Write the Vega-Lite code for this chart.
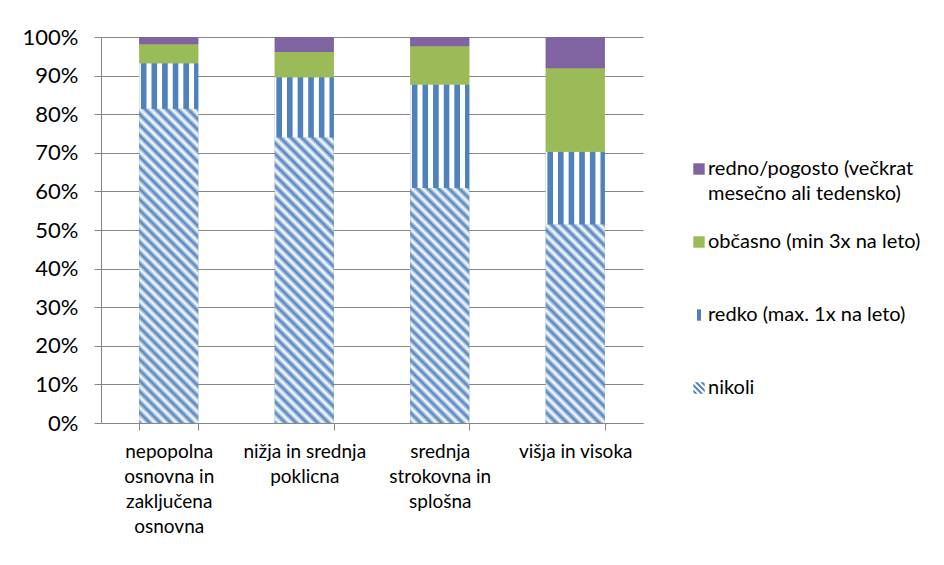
{
  "$schema": "https://vega.github.io/schema/vega-lite/v6.json",
  "width": 542,
  "height": 386,
  "autosize": {"type": "none"},
  "padding": {"left": 101, "top": 37, "right": 301, "bottom": 142},
  "background": "white",
  "config": {
    "view": {"stroke": null},
    "font": "Lato",
    "style": {"guide-label": {"lineHeight": 25}},
    "axis": {"domainColor": "#868686", "tickColor": "#868686", "gridColor": "#868686", "labelColor": "#000000", "labelFont": "Lato", "title": null}
  },
  "data": {
    "values": [
      {"kat": "nepopolna|osnovna in|zaključena|osnovna", "s": "nikoli", "o": 1, "v": 81.4},
      {"kat": "nepopolna|osnovna in|zaključena|osnovna", "s": "redko (max. 1x na leto)", "o": 2, "v": 11.8},
      {"kat": "nepopolna|osnovna in|zaključena|osnovna", "s": "občasno (min 3x na leto)", "o": 3, "v": 4.9},
      {"kat": "nepopolna|osnovna in|zaključena|osnovna", "s": "redno/pogosto (večkrat|mesečno ali tedensko)", "o": 4, "v": 1.9},
      {"kat": "nižja in srednja|poklicna", "s": "nikoli", "o": 1, "v": 74.0},
      {"kat": "nižja in srednja|poklicna", "s": "redko (max. 1x na leto)", "o": 2, "v": 15.6},
      {"kat": "nižja in srednja|poklicna", "s": "občasno (min 3x na leto)", "o": 3, "v": 6.5},
      {"kat": "nižja in srednja|poklicna", "s": "redno/pogosto (večkrat|mesečno ali tedensko)", "o": 4, "v": 3.9},
      {"kat": "srednja|strokovna in|splošna", "s": "nikoli", "o": 1, "v": 60.9},
      {"kat": "srednja|strokovna in|splošna", "s": "redko (max. 1x na leto)", "o": 2, "v": 26.8},
      {"kat": "srednja|strokovna in|splošna", "s": "občasno (min 3x na leto)", "o": 3, "v": 9.9},
      {"kat": "srednja|strokovna in|splošna", "s": "redno/pogosto (večkrat|mesečno ali tedensko)", "o": 4, "v": 2.4},
      {"kat": "višja in visoka", "s": "nikoli", "o": 1, "v": 51.5},
      {"kat": "višja in visoka", "s": "redko (max. 1x na leto)", "o": 2, "v": 18.8},
      {"kat": "višja in visoka", "s": "občasno (min 3x na leto)", "o": 3, "v": 21.6},
      {"kat": "višja in visoka", "s": "redno/pogosto (večkrat|mesečno ali tedensko)", "o": 4, "v": 8.1}
    ]
  },
  "encoding": {
    "x": {
      "field": "kat", "type": "nominal", "sort": null,
      "scale": {"type": "band", "paddingInner": 0.5646, "paddingOuter": 0.2823},
      "axis": {"labelExpr": "split(datum.label, '|')", "labelAngle": 0, "labelFontSize": 19, "labelPadding": 12, "tickSize": 7, "tickBand": "extent", "grid": false, "labelLimit": 300}
    },
    "y": {
      "field": "v", "type": "quantitative", "stack": "normalize",
      "axis": {"values": [0, 0.1, 0.2, 0.3, 0.4, 0.5, 0.6, 0.7, 0.8, 0.9, 1], "format": ".0%", "labelFontSize": 22, "labelPadding": 16, "tickSize": 7, "grid": true}
    },
    "order": {"field": "o", "type": "quantitative", "sort": "ascending"}
  },
  "layer": [
    {
      "mark": {"type": "bar"},
      "encoding": {
        "color": {
          "field": "s", "type": "nominal",
          "scale": {"domain": ["redno/pogosto (večkrat|mesečno ali tedensko)", "občasno (min 3x na leto)", "redko (max. 1x na leto)", "nikoli"], "range": ["#8064a2", "#9bbb59", "#4f81bd", "#4f81bd"]},
          "legend": {"orient": "none", "legendX": 588, "legendY": 122, "title": null, "padding": 0, "labelExpr": "indexof(datum.label, '|') >= 0 ? split(datum.label, '|') : [datum.label, ' ']", "labelFontSize": 20, "labelColor": "#000000", "labelLimit": 400, "labelOffset": -1, "symbolSize": 130, "symbolStrokeWidth": 0, "symbolOpacity": 1, "rowPadding": 28}
        }
      }
    },
    {
      "mark": {"type": "point", "filled": true, "size": 0},
      "encoding": {
        "color": {
          "field": "s", "type": "nominal",
          "scale": {"domain": ["redno/pogosto (večkrat|mesečno ali tedensko)", "občasno (min 3x na leto)", "redko (max. 1x na leto)", "nikoli"], "range": ["#8064a2", "#9bbb59", "#4f81bd", "#4f81bd"]},
          "legend": {"orient": "none", "legendX": 588, "legendY": 122, "title": null, "padding": 0, "labelExpr": "indexof(datum.label, '|') >= 0 ? split(datum.label, '|') : [datum.label, ' ']", "labelFontSize": 20, "labelColor": "#000000", "labelLimit": 400, "labelOffset": -1, "symbolSize": 130, "symbolStrokeWidth": 0, "symbolOpacity": 1, "rowPadding": 28}
        },
        "shape": {
          "field": "s", "type": "nominal",
          "scale": {"domain": ["redno/pogosto (večkrat|mesečno ali tedensko)", "občasno (min 3x na leto)", "redko (max. 1x na leto)", "nikoli"], "range": ["square", "square", "M-0.35,-1H0.35V1H-0.35Z", "M-1,0.75L-1,0.25L-0.25,1L-0.75,1Z M-1,-0.25L-1,-0.75L0.75,1L0.25,1Z M-0.75,-1L-0.25,-1L1,0.25L1,0.75Z M0.25,-1L0.75,-1L1,-0.75L1,-0.25Z"]},
          "legend": {"orient": "none", "legendX": 588, "legendY": 122, "title": null, "padding": 0, "labelExpr": "indexof(datum.label, '|') >= 0 ? split(datum.label, '|') : [datum.label, ' ']", "labelFontSize": 20, "labelColor": "#000000", "labelLimit": 400, "labelOffset": -1, "symbolSize": 130, "symbolStrokeWidth": 0, "symbolOpacity": 1, "rowPadding": 28}
        }
      }
    },
    {
      "mark": {"type": "bar"},
      "encoding": {
        "fill": {
          "condition": [
            {"test": "datum.s === 'redko (max. 1x na leto)'", "value": {"gradient": "linear", "x1": 0, "y1": 0, "x2": 1, "y2": 0, "stops": [
              {"offset": 0, "color": "#ffffff"}, {"offset": 0.02, "color": "#ffffff"}, {"offset": 0.035, "color": "#4f81bd"}, {"offset": 0.115, "color": "#4f81bd"}, {"offset": 0.13, "color": "#ffffff"},
              {"offset": 0.2, "color": "#ffffff"}, {"offset": 0.215, "color": "#4f81bd"}, {"offset": 0.295, "color": "#4f81bd"}, {"offset": 0.31, "color": "#ffffff"},
              {"offset": 0.38, "color": "#ffffff"}, {"offset": 0.395, "color": "#4f81bd"}, {"offset": 0.475, "color": "#4f81bd"}, {"offset": 0.49, "color": "#ffffff"},
              {"offset": 0.56, "color": "#ffffff"}, {"offset": 0.575, "color": "#4f81bd"}, {"offset": 0.655, "color": "#4f81bd"}, {"offset": 0.67, "color": "#ffffff"},
              {"offset": 0.74, "color": "#ffffff"}, {"offset": 0.755, "color": "#4f81bd"}, {"offset": 0.835, "color": "#4f81bd"}, {"offset": 0.85, "color": "#ffffff"},
              {"offset": 0.92, "color": "#ffffff"}, {"offset": 0.935, "color": "#4f81bd"}, {"offset": 1, "color": "#4f81bd"}
            ]}},
            {"test": "datum.s === 'občasno (min 3x na leto)'", "value": "#9bbb59"},
            {"test": "datum.s === 'nikoli' && datum.kat === 'nepopolna|osnovna in|zaključena|osnovna'", "value": {"gradient": "linear", "x1": 0, "y1": 1, "x2": 0.2154, "y2": -0.147, "stops": [
              {"offset": 0, "color": "#4f81bd"}, {"offset": 0.0143, "color": "#ffffff"}, {"offset": 0.0286, "color": "#4f81bd"}, {"offset": 0.0429, "color": "#ffffff"}, {"offset": 0.0571, "color": "#4f81bd"}, {"offset": 0.0714, "color": "#ffffff"}, {"offset": 0.0857, "color": "#4f81bd"}, {"offset": 0.1, "color": "#ffffff"}, {"offset": 0.1143, "color": "#4f81bd"}, {"offset": 0.1286, "color": "#ffffff"},
              {"offset": 0.1429, "color": "#4f81bd"}, {"offset": 0.1571, "color": "#ffffff"}, {"offset": 0.1714, "color": "#4f81bd"}, {"offset": 0.1857, "color": "#ffffff"}, {"offset": 0.2, "color": "#4f81bd"}, {"offset": 0.2143, "color": "#ffffff"}, {"offset": 0.2286, "color": "#4f81bd"}, {"offset": 0.2429, "color": "#ffffff"}, {"offset": 0.2571, "color": "#4f81bd"}, {"offset": 0.2714, "color": "#ffffff"},
              {"offset": 0.2857, "color": "#4f81bd"}, {"offset": 0.3, "color": "#ffffff"}, {"offset": 0.3143, "color": "#4f81bd"}, {"offset": 0.3286, "color": "#ffffff"}, {"offset": 0.3429, "color": "#4f81bd"}, {"offset": 0.3571, "color": "#ffffff"}, {"offset": 0.3714, "color": "#4f81bd"}, {"offset": 0.3857, "color": "#ffffff"}, {"offset": 0.4, "color": "#4f81bd"}, {"offset": 0.4143, "color": "#ffffff"},
              {"offset": 0.4286, "color": "#4f81bd"}, {"offset": 0.4429, "color": "#ffffff"}, {"offset": 0.4571, "color": "#4f81bd"}, {"offset": 0.4714, "color": "#ffffff"}, {"offset": 0.4857, "color": "#4f81bd"}, {"offset": 0.5, "color": "#ffffff"}, {"offset": 0.5143, "color": "#4f81bd"}, {"offset": 0.5286, "color": "#ffffff"}, {"offset": 0.5429, "color": "#4f81bd"}, {"offset": 0.5571, "color": "#ffffff"},
              {"offset": 0.5714, "color": "#4f81bd"}, {"offset": 0.5857, "color": "#ffffff"}, {"offset": 0.6, "color": "#4f81bd"}, {"offset": 0.6143, "color": "#ffffff"}, {"offset": 0.6286, "color": "#4f81bd"}, {"offset": 0.6429, "color": "#ffffff"}, {"offset": 0.6571, "color": "#4f81bd"}, {"offset": 0.6714, "color": "#ffffff"}, {"offset": 0.6857, "color": "#4f81bd"}, {"offset": 0.7, "color": "#ffffff"},
              {"offset": 0.7143, "color": "#4f81bd"}, {"offset": 0.7286, "color": "#ffffff"}, {"offset": 0.7429, "color": "#4f81bd"}, {"offset": 0.7571, "color": "#ffffff"}, {"offset": 0.7714, "color": "#4f81bd"}, {"offset": 0.7857, "color": "#ffffff"}, {"offset": 0.8, "color": "#4f81bd"}, {"offset": 0.8143, "color": "#ffffff"}, {"offset": 0.8286, "color": "#4f81bd"}, {"offset": 0.8429, "color": "#ffffff"},
              {"offset": 0.8571, "color": "#4f81bd"}, {"offset": 0.8714, "color": "#ffffff"}, {"offset": 0.8857, "color": "#4f81bd"}, {"offset": 0.9, "color": "#ffffff"}, {"offset": 0.9143, "color": "#4f81bd"}, {"offset": 0.9286, "color": "#ffffff"}, {"offset": 0.9429, "color": "#4f81bd"}, {"offset": 0.9571, "color": "#ffffff"}, {"offset": 0.9714, "color": "#4f81bd"}, {"offset": 0.9857, "color": "#ffffff"},
              {"offset": 1, "color": "#4f81bd"}
            ]}},
            {"test": "datum.s === 'nikoli' && datum.kat === 'nižja in srednja|poklicna'", "value": {"gradient": "linear", "x1": 0, "y1": 1, "x2": 0.2391, "y2": -0.1575, "stops": [
              {"offset": 0, "color": "#4f81bd"}, {"offset": 0.0156, "color": "#ffffff"}, {"offset": 0.0313, "color": "#4f81bd"}, {"offset": 0.0469, "color": "#ffffff"}, {"offset": 0.0625, "color": "#4f81bd"}, {"offset": 0.0781, "color": "#ffffff"}, {"offset": 0.0938, "color": "#4f81bd"}, {"offset": 0.1094, "color": "#ffffff"},
              {"offset": 0.125, "color": "#4f81bd"}, {"offset": 0.1406, "color": "#ffffff"}, {"offset": 0.1563, "color": "#4f81bd"}, {"offset": 0.1719, "color": "#ffffff"}, {"offset": 0.1875, "color": "#4f81bd"}, {"offset": 0.2031, "color": "#ffffff"}, {"offset": 0.2188, "color": "#4f81bd"}, {"offset": 0.2344, "color": "#ffffff"},
              {"offset": 0.25, "color": "#4f81bd"}, {"offset": 0.2656, "color": "#ffffff"}, {"offset": 0.2813, "color": "#4f81bd"}, {"offset": 0.2969, "color": "#ffffff"}, {"offset": 0.3125, "color": "#4f81bd"}, {"offset": 0.3281, "color": "#ffffff"}, {"offset": 0.3438, "color": "#4f81bd"}, {"offset": 0.3594, "color": "#ffffff"},
              {"offset": 0.375, "color": "#4f81bd"}, {"offset": 0.3906, "color": "#ffffff"}, {"offset": 0.4063, "color": "#4f81bd"}, {"offset": 0.4219, "color": "#ffffff"}, {"offset": 0.4375, "color": "#4f81bd"}, {"offset": 0.4531, "color": "#ffffff"}, {"offset": 0.4688, "color": "#4f81bd"}, {"offset": 0.4844, "color": "#ffffff"},
              {"offset": 0.5, "color": "#4f81bd"}, {"offset": 0.5156, "color": "#ffffff"}, {"offset": 0.5313, "color": "#4f81bd"}, {"offset": 0.5469, "color": "#ffffff"}, {"offset": 0.5625, "color": "#4f81bd"}, {"offset": 0.5781, "color": "#ffffff"}, {"offset": 0.5938, "color": "#4f81bd"}, {"offset": 0.6094, "color": "#ffffff"},
              {"offset": 0.625, "color": "#4f81bd"}, {"offset": 0.6406, "color": "#ffffff"}, {"offset": 0.6563, "color": "#4f81bd"}, {"offset": 0.6719, "color": "#ffffff"}, {"offset": 0.6875, "color": "#4f81bd"}, {"offset": 0.7031, "color": "#ffffff"}, {"offset": 0.7188, "color": "#4f81bd"}, {"offset": 0.7344, "color": "#ffffff"},
              {"offset": 0.75, "color": "#4f81bd"}, {"offset": 0.7656, "color": "#ffffff"}, {"offset": 0.7813, "color": "#4f81bd"}, {"offset": 0.7969, "color": "#ffffff"}, {"offset": 0.8125, "color": "#4f81bd"}, {"offset": 0.8281, "color": "#ffffff"}, {"offset": 0.8438, "color": "#4f81bd"}, {"offset": 0.8594, "color": "#ffffff"},
              {"offset": 0.875, "color": "#4f81bd"}, {"offset": 0.8906, "color": "#ffffff"}, {"offset": 0.9063, "color": "#4f81bd"}, {"offset": 0.9219, "color": "#ffffff"}, {"offset": 0.9375, "color": "#4f81bd"}, {"offset": 0.9531, "color": "#ffffff"}, {"offset": 0.9688, "color": "#4f81bd"}, {"offset": 0.9844, "color": "#ffffff"},
              {"offset": 1, "color": "#4f81bd"}
            ]}},
            {"test": "datum.s === 'nikoli' && datum.kat === 'srednja|strokovna in|splošna'", "value": {"gradient": "linear", "x1": 0, "y1": 1, "x2": 0.2953, "y2": -0.1768, "stops": [
              {"offset": 0, "color": "#4f81bd"}, {"offset": 0.0179, "color": "#ffffff"}, {"offset": 0.0357, "color": "#4f81bd"}, {"offset": 0.0536, "color": "#ffffff"}, {"offset": 0.0714, "color": "#4f81bd"}, {"offset": 0.0893, "color": "#ffffff"}, {"offset": 0.1071, "color": "#4f81bd"}, {"offset": 0.125, "color": "#ffffff"},
              {"offset": 0.1429, "color": "#4f81bd"}, {"offset": 0.1607, "color": "#ffffff"}, {"offset": 0.1786, "color": "#4f81bd"}, {"offset": 0.1964, "color": "#ffffff"}, {"offset": 0.2143, "color": "#4f81bd"}, {"offset": 0.2321, "color": "#ffffff"}, {"offset": 0.25, "color": "#4f81bd"}, {"offset": 0.2679, "color": "#ffffff"},
              {"offset": 0.2857, "color": "#4f81bd"}, {"offset": 0.3036, "color": "#ffffff"}, {"offset": 0.3214, "color": "#4f81bd"}, {"offset": 0.3393, "color": "#ffffff"}, {"offset": 0.3571, "color": "#4f81bd"}, {"offset": 0.375, "color": "#ffffff"}, {"offset": 0.3929, "color": "#4f81bd"}, {"offset": 0.4107, "color": "#ffffff"},
              {"offset": 0.4286, "color": "#4f81bd"}, {"offset": 0.4464, "color": "#ffffff"}, {"offset": 0.4643, "color": "#4f81bd"}, {"offset": 0.4821, "color": "#ffffff"}, {"offset": 0.5, "color": "#4f81bd"}, {"offset": 0.5179, "color": "#ffffff"}, {"offset": 0.5357, "color": "#4f81bd"}, {"offset": 0.5536, "color": "#ffffff"},
              {"offset": 0.5714, "color": "#4f81bd"}, {"offset": 0.5893, "color": "#ffffff"}, {"offset": 0.6071, "color": "#4f81bd"}, {"offset": 0.625, "color": "#ffffff"}, {"offset": 0.6429, "color": "#4f81bd"}, {"offset": 0.6607, "color": "#ffffff"}, {"offset": 0.6786, "color": "#4f81bd"}, {"offset": 0.6964, "color": "#ffffff"},
              {"offset": 0.7143, "color": "#4f81bd"}, {"offset": 0.7321, "color": "#ffffff"}, {"offset": 0.75, "color": "#4f81bd"}, {"offset": 0.7679, "color": "#ffffff"}, {"offset": 0.7857, "color": "#4f81bd"}, {"offset": 0.8036, "color": "#ffffff"}, {"offset": 0.8214, "color": "#4f81bd"}, {"offset": 0.8393, "color": "#ffffff"},
              {"offset": 0.8571, "color": "#4f81bd"}, {"offset": 0.875, "color": "#ffffff"}, {"offset": 0.8929, "color": "#4f81bd"}, {"offset": 0.9107, "color": "#ffffff"}, {"offset": 0.9286, "color": "#4f81bd"}, {"offset": 0.9464, "color": "#ffffff"}, {"offset": 0.9643, "color": "#4f81bd"}, {"offset": 0.9821, "color": "#ffffff"},
              {"offset": 1, "color": "#4f81bd"}
            ]}},
            {"test": "datum.s === 'nikoli'", "value": {"gradient": "linear", "x1": 0, "y1": 1, "x2": 0.3538, "y2": -0.192, "stops": [
              {"offset": 0, "color": "#4f81bd"}, {"offset": 0.0208, "color": "#ffffff"}, {"offset": 0.0417, "color": "#4f81bd"}, {"offset": 0.0625, "color": "#ffffff"}, {"offset": 0.0833, "color": "#4f81bd"}, {"offset": 0.1042, "color": "#ffffff"}, {"offset": 0.125, "color": "#4f81bd"}, {"offset": 0.1458, "color": "#ffffff"},
              {"offset": 0.1667, "color": "#4f81bd"}, {"offset": 0.1875, "color": "#ffffff"}, {"offset": 0.2083, "color": "#4f81bd"}, {"offset": 0.2292, "color": "#ffffff"}, {"offset": 0.25, "color": "#4f81bd"}, {"offset": 0.2708, "color": "#ffffff"}, {"offset": 0.2917, "color": "#4f81bd"}, {"offset": 0.3125, "color": "#ffffff"},
              {"offset": 0.3333, "color": "#4f81bd"}, {"offset": 0.3542, "color": "#ffffff"}, {"offset": 0.375, "color": "#4f81bd"}, {"offset": 0.3958, "color": "#ffffff"}, {"offset": 0.4167, "color": "#4f81bd"}, {"offset": 0.4375, "color": "#ffffff"}, {"offset": 0.4583, "color": "#4f81bd"}, {"offset": 0.4792, "color": "#ffffff"},
              {"offset": 0.5, "color": "#4f81bd"}, {"offset": 0.5208, "color": "#ffffff"}, {"offset": 0.5417, "color": "#4f81bd"}, {"offset": 0.5625, "color": "#ffffff"}, {"offset": 0.5833, "color": "#4f81bd"}, {"offset": 0.6042, "color": "#ffffff"}, {"offset": 0.625, "color": "#4f81bd"}, {"offset": 0.6458, "color": "#ffffff"},
              {"offset": 0.6667, "color": "#4f81bd"}, {"offset": 0.6875, "color": "#ffffff"}, {"offset": 0.7083, "color": "#4f81bd"}, {"offset": 0.7292, "color": "#ffffff"}, {"offset": 0.75, "color": "#4f81bd"}, {"offset": 0.7708, "color": "#ffffff"}, {"offset": 0.7917, "color": "#4f81bd"}, {"offset": 0.8125, "color": "#ffffff"},
              {"offset": 0.8333, "color": "#4f81bd"}, {"offset": 0.8542, "color": "#ffffff"}, {"offset": 0.875, "color": "#4f81bd"}, {"offset": 0.8958, "color": "#ffffff"}, {"offset": 0.9167, "color": "#4f81bd"}, {"offset": 0.9375, "color": "#ffffff"}, {"offset": 0.9583, "color": "#4f81bd"}, {"offset": 0.9792, "color": "#ffffff"},
              {"offset": 1, "color": "#4f81bd"}
            ]}}
          ],
          "value": "#8064a2"
        }
      }
    }
  ]
}
